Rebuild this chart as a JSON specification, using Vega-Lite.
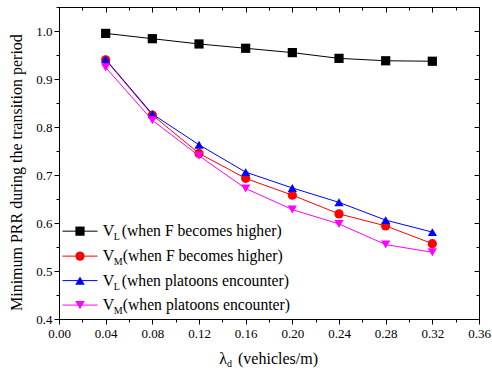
{
  "$schema": "https://vega.github.io/schema/vega-lite/v6.json",
  "width": 420,
  "height": 312,
  "autosize": {"type": "none"},
  "padding": {"left": 59, "top": 7, "right": 13, "bottom": 51},
  "background": "white",
  "config": {
    "view": {"stroke": "black", "strokeWidth": 1},
    "font": "Liberation Serif, DejaVu Serif, serif",
    "text": {"font": "Liberation Serif, DejaVu Serif, serif"},
    "axis": {"grid": false, "domainColor": "black", "tickColor": "black", "labelColor": "black", "labelFont": "Liberation Serif, DejaVu Serif, serif", "labelFontSize": 13, "titleFont": "Liberation Serif, DejaVu Serif, serif", "titleColor": "black"}
  },
  "datasets": {
    "series": [
      {"x": 0.04, "y": 0.995, "s": "a"}, {"x": 0.08, "y": 0.984, "s": "a"}, {"x": 0.12, "y": 0.973, "s": "a"}, {"x": 0.16, "y": 0.964, "s": "a"},
      {"x": 0.20, "y": 0.955, "s": "a"}, {"x": 0.24, "y": 0.943, "s": "a"}, {"x": 0.28, "y": 0.938, "s": "a"}, {"x": 0.32, "y": 0.937, "s": "a"},
      {"x": 0.04, "y": 0.940, "s": "b"}, {"x": 0.08, "y": 0.825, "s": "b"}, {"x": 0.12, "y": 0.745, "s": "b"}, {"x": 0.16, "y": 0.693, "s": "b"},
      {"x": 0.20, "y": 0.658, "s": "b"}, {"x": 0.24, "y": 0.619, "s": "b"}, {"x": 0.28, "y": 0.594, "s": "b"}, {"x": 0.32, "y": 0.557, "s": "b"},
      {"x": 0.04, "y": 0.941, "s": "c"}, {"x": 0.08, "y": 0.827, "s": "c"}, {"x": 0.12, "y": 0.763, "s": "c"}, {"x": 0.16, "y": 0.706, "s": "c"},
      {"x": 0.20, "y": 0.673, "s": "c"}, {"x": 0.24, "y": 0.643, "s": "c"}, {"x": 0.28, "y": 0.606, "s": "c"}, {"x": 0.32, "y": 0.581, "s": "c"},
      {"x": 0.04, "y": 0.924, "s": "d"}, {"x": 0.08, "y": 0.814, "s": "d"}, {"x": 0.12, "y": 0.740, "s": "d"}, {"x": 0.16, "y": 0.672, "s": "d"},
      {"x": 0.20, "y": 0.628, "s": "d"}, {"x": 0.24, "y": 0.598, "s": "d"}, {"x": 0.28, "y": 0.555, "s": "d"}, {"x": 0.32, "y": 0.539, "s": "d"}
    ],
    "one": [{"k": 1}]
  },
  "resolve": {"axis": {"x": "independent", "y": "independent"}},
  "layer": [
    {
      "data": {"name": "series"},
      "mark": {"type": "line", "strokeWidth": 1},
      "encoding": {
        "x": {"field": "x", "type": "quantitative", "scale": {"domain": [0, 0.36], "nice": false, "zero": false},
          "axis": {"orient": "bottom", "title": null, "values": [0, 0.02, 0.04, 0.06, 0.08, 0.1, 0.12, 0.14, 0.16, 0.18, 0.2, 0.22, 0.24, 0.26, 0.28, 0.3, 0.32, 0.34, 0.36],
            "labelExpr": "round(datum.value*50) % 2 == 0 ? format(datum.value, '.2f') : ''",
            "tickSize": {"condition": {"test": "round(datum.value*50) % 2 == 0", "value": 5}, "value": 3},
            "labelPadding": 3, "labelFlush": false, "labelOverlap": false}},
        "y": {"field": "y", "type": "quantitative", "scale": {"domain": [0.4, 1.05], "nice": false, "zero": false},
          "axis": {"orient": "left", "title": null, "values": [0.4, 0.45, 0.5, 0.55, 0.6, 0.65, 0.7, 0.75, 0.8, 0.85, 0.9, 0.95, 1.0, 1.05],
            "labelExpr": "round(datum.value*20) % 2 == 0 ? format(datum.value, '.1f') : ''",
            "tickSize": {"condition": {"test": "round(datum.value*20) % 2 == 0", "value": 5}, "value": 3},
            "labelPadding": 2, "labelFlush": false, "labelOverlap": false}},
        "color": {"field": "s", "type": "nominal", "scale": {"domain": ["a", "b", "c", "d"], "range": ["#000000", "#ff0000", "#0000ff", "#ff00ff"]}, "legend": null}
      }
    },
    {
      "data": {"name": "series"},
      "mark": {"type": "point", "filled": true, "opacity": 1},
      "encoding": {
        "x": {"field": "x", "type": "quantitative",
          "axis": {"orient": "top", "title": null, "labels": false, "values": [0, 0.02, 0.04, 0.06, 0.08, 0.1, 0.12, 0.14, 0.16, 0.18, 0.2, 0.22, 0.24, 0.26, 0.28, 0.3, 0.32, 0.34, 0.36],
            "tickSize": {"condition": {"test": "round(datum.value*50) % 2 == 0", "value": -5}, "value": -3}}},
        "y": {"field": "y", "type": "quantitative",
          "axis": {"orient": "right", "title": null, "labels": false, "values": [0.4, 0.45, 0.5, 0.55, 0.6, 0.65, 0.7, 0.75, 0.8, 0.85, 0.9, 0.95, 1.0, 1.05],
            "tickSize": {"condition": {"test": "round(datum.value*20) % 2 == 0", "value": -5}, "value": -3}}},
        "color": {"field": "s", "type": "nominal", "legend": null},
        "shape": {"field": "s", "type": "nominal", "scale": {"domain": ["a", "b", "c", "d"], "range": ["square", "circle", "triangle-up", "triangle-down"]}, "legend": null},
        "size": {"field": "s", "type": "nominal", "scale": {"domain": ["a", "b", "c", "d"], "range": [85, 85, 90, 90]}, "legend": null}
      }
    },
    {
      "data": {"name": "one"},
      "encoding": {"y": {"datum": 0.583, "axis": null}},
      "layer": [
        {"mark": {"type": "rule", "color": "black", "strokeWidth": 1}, "encoding": {"x": {"datum": 0.003, "axis": null}, "x2": {"datum": 0.033}}},
        {"mark": {"type": "point", "shape": "square", "filled": true, "color": "black", "size": 85, "opacity": 1}, "encoding": {"x": {"datum": 0.018, "axis": null}}},
        {"mark": {"type": "text", "text": "V", "fontSize": 16, "align": "left", "baseline": "middle", "color": "black"}, "encoding": {"x": {"datum": 0.0375, "axis": null}}},
        {"mark": {"type": "text", "text": "L", "fontSize": 10, "align": "left", "baseline": "middle", "dx": 11, "dy": 6, "color": "black"}, "encoding": {"x": {"datum": 0.0375, "axis": null}}},
        {"mark": {"type": "text", "text": "(when F becomes higher)", "fontSize": 15.7, "align": "left", "baseline": "middle", "dx": 19, "color": "black"}, "encoding": {"x": {"datum": 0.0375, "axis": null}}}
      ]
    },
    {
      "data": {"name": "one"},
      "encoding": {"y": {"datum": 0.531, "axis": null}},
      "layer": [
        {"mark": {"type": "rule", "color": "#ff0000", "strokeWidth": 1}, "encoding": {"x": {"datum": 0.003, "axis": null}, "x2": {"datum": 0.033}}},
        {"mark": {"type": "point", "shape": "circle", "filled": true, "color": "#ff0000", "size": 85, "opacity": 1}, "encoding": {"x": {"datum": 0.018, "axis": null}}},
        {"mark": {"type": "text", "text": "V", "fontSize": 16, "align": "left", "baseline": "middle", "color": "black"}, "encoding": {"x": {"datum": 0.0375, "axis": null}}},
        {"mark": {"type": "text", "text": "M", "fontSize": 10, "align": "left", "baseline": "middle", "dx": 11, "dy": 6, "color": "black"}, "encoding": {"x": {"datum": 0.0375, "axis": null}}},
        {"mark": {"type": "text", "text": "(when F becomes higher)", "fontSize": 15.7, "align": "left", "baseline": "middle", "dx": 20, "color": "black"}, "encoding": {"x": {"datum": 0.0375, "axis": null}}}
      ]
    },
    {
      "data": {"name": "one"},
      "encoding": {"y": {"datum": 0.480, "axis": null}},
      "layer": [
        {"mark": {"type": "rule", "color": "#0000ff", "strokeWidth": 1}, "encoding": {"x": {"datum": 0.003, "axis": null}, "x2": {"datum": 0.033}}},
        {"mark": {"type": "point", "shape": "triangle-up", "filled": true, "color": "#0000ff", "size": 90, "opacity": 1}, "encoding": {"x": {"datum": 0.018, "axis": null}}},
        {"mark": {"type": "text", "text": "V", "fontSize": 16, "align": "left", "baseline": "middle", "color": "black"}, "encoding": {"x": {"datum": 0.0375, "axis": null}}},
        {"mark": {"type": "text", "text": "L", "fontSize": 10, "align": "left", "baseline": "middle", "dx": 11, "dy": 6, "color": "black"}, "encoding": {"x": {"datum": 0.0375, "axis": null}}},
        {"mark": {"type": "text", "text": "(when platoons encounter)", "fontSize": 15.7, "align": "left", "baseline": "middle", "dx": 19, "color": "black"}, "encoding": {"x": {"datum": 0.0375, "axis": null}}}
      ]
    },
    {
      "data": {"name": "one"},
      "encoding": {"y": {"datum": 0.429, "axis": null}},
      "layer": [
        {"mark": {"type": "rule", "color": "#ff00ff", "strokeWidth": 1}, "encoding": {"x": {"datum": 0.003, "axis": null}, "x2": {"datum": 0.033}}},
        {"mark": {"type": "point", "shape": "triangle-down", "filled": true, "color": "#ff00ff", "size": 90, "opacity": 1}, "encoding": {"x": {"datum": 0.018, "axis": null}}},
        {"mark": {"type": "text", "text": "V", "fontSize": 16, "align": "left", "baseline": "middle", "color": "black"}, "encoding": {"x": {"datum": 0.0375, "axis": null}}},
        {"mark": {"type": "text", "text": "M", "fontSize": 10, "align": "left", "baseline": "middle", "dx": 11, "dy": 6, "color": "black"}, "encoding": {"x": {"datum": 0.0375, "axis": null}}},
        {"mark": {"type": "text", "text": "(when platoons encounter)", "fontSize": 15.7, "align": "left", "baseline": "middle", "dx": 20, "color": "black"}, "encoding": {"x": {"datum": 0.0375, "axis": null}}}
      ]
    },
    {
      "data": {"name": "one"},
      "encoding": {"y": {"datum": 0.4, "axis": null}, "x": {"datum": 0.18, "axis": null}},
      "layer": [
        {"mark": {"type": "text", "text": "λ", "fontSize": 16, "align": "right", "baseline": "middle", "dx": -42, "dy": 40, "color": "black", "clip": false}},
        {"mark": {"type": "text", "text": "d", "fontSize": 10, "align": "left", "baseline": "middle", "dx": -42, "dy": 45, "color": "black", "clip": false}},
        {"mark": {"type": "text", "text": "(vehicles/m)", "fontSize": 16, "align": "left", "baseline": "middle", "dx": -31, "dy": 40, "color": "black", "clip": false}}
      ]
    },
    {
      "data": {"name": "one"},
      "encoding": {"y": {"datum": 0.705, "axis": null}, "x": {"datum": 0, "axis": null}},
      "mark": {"type": "text", "text": "Minimum PRR during the transition period", "fontSize": 16, "angle": 270, "align": "center", "baseline": "middle", "dx": 0, "dy": -42, "color": "black", "clip": false}
    }
  ]
}
